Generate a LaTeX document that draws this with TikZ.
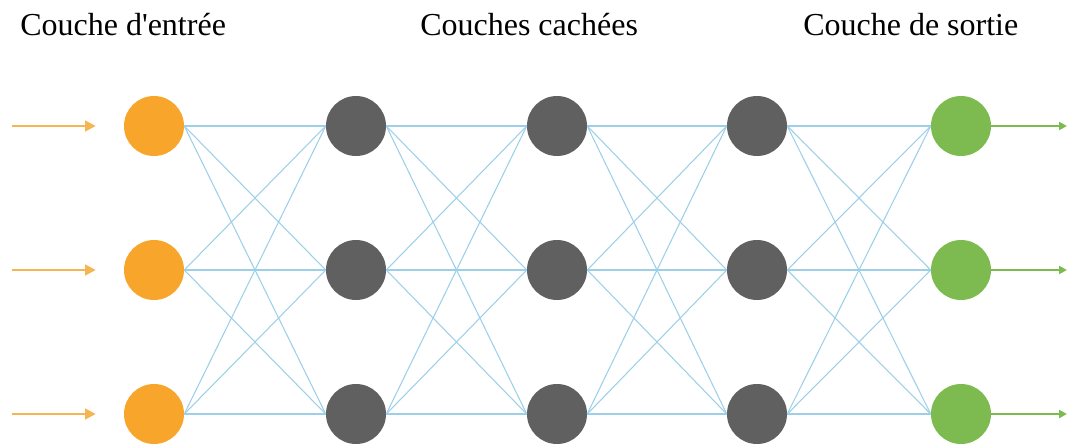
\documentclass[tikz,border=0pt]{standalone}
\usepackage{fontspec}
\setmainfont{Liberation Serif}
\usetikzlibrary{arrows.meta,positioning}
\definecolor{netOrange}{HTML}{F7A62B}
\definecolor{netFeed}{HTML}{F6B551}
\definecolor{netGray}{HTML}{606060}
\definecolor{netGreen}{HTML}{7DBA4F}
\definecolor{netBlue}{HTML}{9DD0E8}
\tikzset{
  every picture/.style={font=\fontsize{24}{28}\selectfont},
  net label/.style={anchor=base west, inner sep=0pt},
  net unit/.style={circle, minimum size=45pt, inner sep=0pt},
  net input/.style={net unit, fill=netOrange},
  net hidden/.style={net unit, fill=netGray},
  net output/.style={net unit, fill=netGreen},
  net link/.style={draw=netBlue, line width=0.8pt},
  net feed/.style={-{Triangle[length=8pt,width=8pt]},
    draw=netFeed, fill=netFeed, line width=1.8pt, line cap=butt},
  net out/.style={-{Triangle[length=6pt,width=6pt]},
    draw=netGreen, fill=netGreen, line width=1.6pt, line cap=butt}
}

\begin{document}
\begin{tikzpicture}[x=0.75pt,y=-0.75pt]
  \useasboundingbox (0,0) rectangle (1068,443);
  \node[net label] (lblIn) at (20,35) {Couche d\textquotesingle entrée};
  \node[net label] (lblHid) at (420,35) {Couches cachées};
  \node[net label] (lblOut) at (803,35) {Couche de sortie};
  % neurons
  \foreach \r/\y in {1/126,2/270,3/414} {
    \node[net input] (in\r) at (154,\y) {};
    \node[net hidden] (ha\r) at (356,\y) {};
    \node[net hidden] (hb\r) at (557,\y) {};
    \node[net hidden] (hc\r) at (757,\y) {};
    \node[net output] (out\r) at (961,\y) {};
    \coordinate (src\r) at (12,\y);
    \coordinate (dst\r) at (1067,\y);
    \draw[net feed, shorten >=21pt] (src\r) -- (in\r.west);
    \draw[net out] (out\r.east) -- (dst\r);
  }
  % links
  \foreach \a in {1,2,3} \foreach \b in {1,2,3} {
    \draw[net link] (in\a.east) -- (ha\b.west);
    \draw[net link] (ha\a.east) -- (hb\b.west);
    \draw[net link] (hb\a.east) -- (hc\b.west);
    \draw[net link] (hc\a.east) -- (out\b.west);
  }
\end{tikzpicture}
\end{document}
